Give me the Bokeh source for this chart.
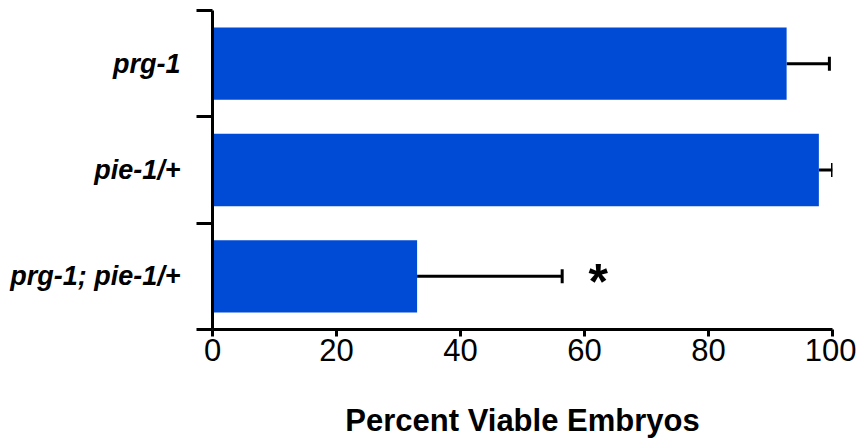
from bokeh.plotting import figure
from bokeh.models import Range1d, FixedTicker, Whisker, ColumnDataSource, TeeHead
from bokeh.core.properties import value
from bokeh.embed import file_html
from bokeh.resources import INLINE

categories = ["prg-1", "pie-1/+", "prg-1; pie-1/+"]
viable = [92.6, 97.8, 33.0]
sem = [6.9, 2.2, 23.4]
marks = ["", "", "*"]
x_ticks = [0, 20, 40, 60, 80, 100]

n = len(categories)
ypos = [n - i - 0.5 for i in range(n)]
upper = [v + e for v, e in zip(viable, sem)]
src = ColumnDataSource(dict(cat=categories, y=ypos, v=viable, up=upper, mark=marks))

p = figure(width=856, height=440, output_backend="svg", toolbar_location=None,
           x_range=Range1d(0, 100), y_range=Range1d(0, n),
           min_border_left=212, min_border_right=24, min_border_top=10, min_border_bottom=109)
p.outline_line_color = None
p.grid.grid_line_color = None
p.background_fill_color = "white"

BLUE = "#004BD6"
p.hbar(y="y", left=0, right="v", height=0.68, source=src, fill_color=BLUE, line_color=None)

w = Whisker(base="y", lower="v", upper="up", dimension="width", source=src,
            line_color="black", line_width=3, lower_head=None,
            upper_head=TeeHead(size=14, line_color="black", line_width=3))
p.add_layout(w)

p.text(x="up", y="y", text="mark", source=src, x_offset=36, y_offset=6,
       text_align="center", text_baseline="middle", text_font=value("Liberation Sans"),
       text_font_style="bold", text_font_size="50px", text_color="black")

# x axis
xa = p.xaxis[0]
xa.ticker = FixedTicker(ticks=x_ticks)
xa.axis_line_width = 3
xa.major_tick_line_width = 3
xa.major_tick_out = 7
xa.major_tick_in = 0
xa.minor_tick_line_color = None
xa.major_label_standoff = 2
xa.major_label_text_font = "Liberation Sans"
xa.major_label_text_font_size = "31px"
xa.major_label_text_color = "black"
xa.axis_label = "Percent Viable Embryos"
xa.axis_label_text_font = "Liberation Sans"
xa.axis_label_text_font_style = "bold"
xa.axis_label_text_font_size = "31px"
xa.axis_label_text_color = "black"
xa.axis_label_standoff = 39

# y axis: labels at centers, ticks at boundaries
ya = p.yaxis[0]
ya.ticker = FixedTicker(ticks=ypos, minor_ticks=list(range(n + 1)))
ya.major_label_overrides = {y: c for y, c in zip(ypos, categories)}
ya.axis_line_width = 3
ya.major_tick_line_color = None
ya.major_tick_out = 0
ya.major_tick_in = 0
ya.minor_tick_line_color = "black"
ya.minor_tick_line_width = 3
ya.minor_tick_out = 16
ya.minor_tick_in = 0
ya.major_label_standoff = 16
ya.major_label_text_font = "Liberation Sans"
ya.major_label_text_font_style = "bold italic"
ya.major_label_text_font_size = "27px"
ya.major_label_text_color = "black"

open("out.html", "w").write(file_html(p, INLINE))
